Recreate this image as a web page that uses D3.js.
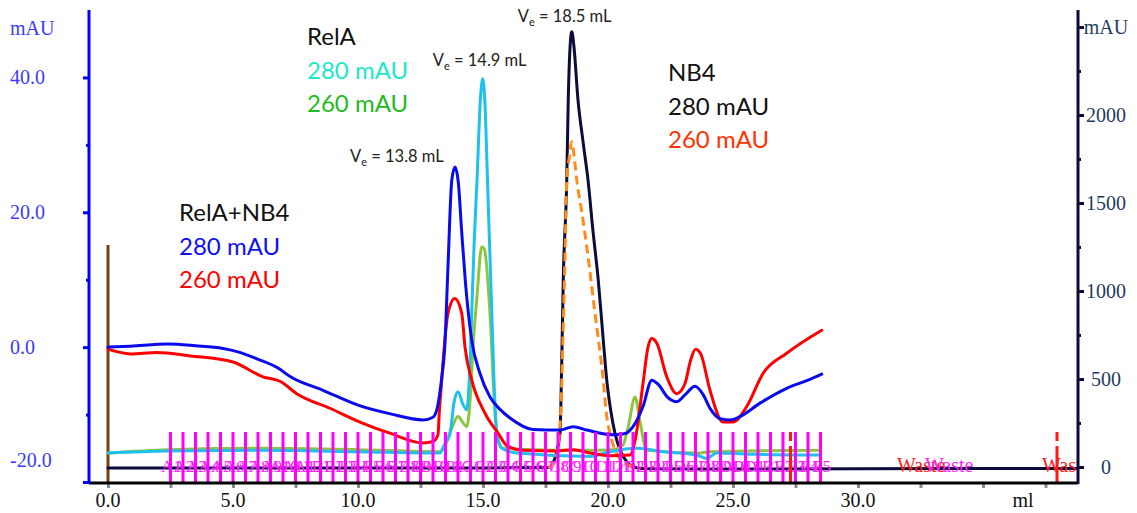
<!DOCTYPE html>
<html>
<head>
<meta charset="utf-8">
<script src="https://cdn.jsdelivr.net/npm/d3@7/dist/d3.min.js"></script>
<style>
  html, body { margin: 0; padding: 0; background: #fff; }
  svg { display: block; }
</style>
</head>
<body>
<svg id="chart" width="1137" height="513"></svg>
<script>
// ---- Data: elution volume (ml) vs absorbance (mAU) ----
// RelA+NB4 complex, left axis
const complexA280 = [[0,0],[0.9,0.15],[2.4,0.45],[3.5,0.2],[4.6,-0.2],[5.2,-0.7],[6.0,-1.8],[6.8,-3.1],[7.3,-4.4],[8.6,-6.4],[10.0,-8.6],[11.3,-9.9],[12.6,-10.8],[13.0,-10.4],[13.2,-8.5],[13.35,-4.5],[13.47,0],[13.6,12],[13.75,24.7],[13.88,26.7],[14.01,24.5],[14.15,17],[14.3,9.5],[14.55,1.0],[14.88,-3.9],[15.28,-7.4],[15.7,-9.3],[16.08,-10.5],[17.0,-12.2],[18.08,-12.3],[18.6,-11.8],[19.15,-12.3],[20.2,-13.0],[20.7,-12.8],[21.0,-11.8],[21.4,-8.8],[21.75,-4.9],[22.0,-5.5],[22.4,-7.5],[22.75,-8.1],[23.1,-7.0],[23.48,-5.8],[23.8,-7.0],[24.1,-9.2],[24.48,-10.6],[24.9,-10.8],[25.28,-10.3],[26.08,-8.3],[27.15,-6.1],[28.0,-4.9],[28.55,-4.0]];
const complexA260 = [[0,-0.3],[0.9,-1.0],[1.95,-0.8],[3.3,-1.3],[5.0,-2.2],[6.2,-4.4],[6.9,-5.1],[7.55,-6.9],[8.9,-9.1],[10.2,-11.3],[11.3,-12.8],[12.6,-14.2],[13.0,-14.0],[13.2,-13.0],[13.25,-9.8],[13.35,-4.9],[13.45,0],[13.6,5],[13.87,7.2],[14.15,5.0],[14.28,0],[14.55,-4.9],[15.08,-9.8],[15.61,-12.8],[15.95,-14.6],[16.6,-15.3],[17.95,-15.4],[18.6,-15.2],[19.28,-15.7],[20.08,-16.1],[20.88,-16.0],[21.1,-13.5],[21.4,-5.4],[21.6,0],[21.75,1.3],[21.95,0.6],[22.35,-4.4],[22.75,-6.9],[23.08,-5.4],[23.3,-2.0],[23.5,-0.3],[23.7,-0.9],[24.08,-6.4],[24.6,-11.1],[25.0,-11.1],[25.55,-8.8],[26.2,-3.9],[27.15,-0.9],[28.55,2.5]];

// RelA alone, left axis
const relaA280 = [[0,-15.7],[2.35,-15.4],[5.95,-15.3],[9.95,-15.5],[13.28,-15.7],[13.45,-14.5],[13.68,-12.8],[13.85,-8.0],[14.0,-6.6],[14.2,-8.5],[14.35,-9.3],[14.45,-4.9],[14.55,5],[14.64,14.9],[14.76,24.7],[14.9,37],[14.99,39.8],[15.08,36],[15.18,24.7],[15.31,9.9],[15.44,-4.9],[15.55,-12.8],[15.75,-15.0],[16.35,-15.7],[19.28,-16.2],[20.08,-15.5],[21.15,-15.0],[22.2,-15.5],[23.55,-16.0],[23.95,-16.5],[24.35,-15.7],[25.95,-15.9],[28.5,-16.0]];
const relaA260 = [[0,-15.7],[2.4,-15.2],[6.0,-15.0],[10.0,-15.2],[13.28,-15.5],[13.5,-14.5],[13.75,-12.0],[14.0,-10.3],[14.2,-11.2],[14.35,-11.8],[14.5,-7.0],[14.6,0],[14.75,7.0],[14.95,14.9],[15.05,14.6],[15.28,5.0],[15.48,-9.8],[15.61,-13.8],[15.8,-15.0],[17.0,-15.2],[19.0,-15.3],[20.2,-15.2],[20.6,-14.5],[20.8,-12.0],[21.08,-7.4],[21.3,-11.5],[21.55,-15.3],[23.68,-15.7],[24.08,-15.5],[28.5,-15.3]];

// NB4 alone, right axis
const nb4A280 = [[0,-5],[5,-5],[10,-5],[15,-5],[17.6,-3],[17.85,40],[18.0,120],[18.08,191],[18.15,600],[18.21,1062],[18.35,1631],[18.41,2085],[18.48,2380],[18.55,2473],[18.63,2400],[18.8,2085],[19.0,1850],[19.2,1631],[19.4,1340],[19.61,1062],[19.8,740],[19.95,494],[20.1,330],[20.28,191],[20.5,90],[20.75,30],[21.0,0],[21.5,-10],[25,-12],[30,-10],[38.8,-8]];
const nb4A260 = [[17.6,-3],[17.9,40],[18.08,229],[18.19,684],[18.28,1200],[18.35,1631],[18.45,1760],[18.55,1848],[18.65,1760],[18.75,1631],[18.95,1450],[19.15,1252],[19.48,873],[19.81,494],[19.95,286],[20.08,191],[20.28,97],[20.5,40],[20.8,10],[21.2,0]];

// Fraction collection
const fractionVolumes = [2.5,3.0,3.5,4.0,4.5,5.0,5.5,6.0,6.5,7.0,7.5,8.0,8.5,9.0,9.5,10.0,10.5,11.0,11.5,12.0,12.5,13.0,13.5,14.0,14.5,15.0,15.5,16.0,16.5,17.0,17.5,18.0,18.5,19.0,19.5,20.0,20.5,21.0,21.5,22.0,22.5,23.0,23.5,24.0,24.5,25.0,25.5,26.0,26.5,27.0,27.5,28.0,28.5];
const fractionLabels = ["A1","A2","A3","A4","A5","A6","A7","A8","A9","A10","A11","A12","B1","B2","B3","B4","B5","B6","B7","B8","B9","B10","B11","B12","C1","C2","C3","C4","C5","C6","C7","C8","C9","C10","C11","C12","D1","D2","D3","D4","D5","D6","D7","D8","D9","D10","D11","D12","E1","E2","E3","E4","E5"];
const wasteLabelVolumes = [31.56, 37.36];
const wasteFractionVolume = 32.68;
const eventMarkVolumes = [27.3, 37.96];
const injectionVolume = 0;

// Axes ticks
const leftTicks = [-20, 0, 20, 40];
const leftMinorTicks = [-10, 10, 30];
const rightTicks = [0, 500, 1000, 1500, 2000, 2500];
const rightMinorTicks = [250, 750, 1250, 1750, 2250];
const xLabelTicks = [0, 5, 10, 15, 20, 25, 30];
const xMarkTicks = [0, 2.5, 5, 7.5, 10, 12.5, 15, 17.5, 20, 22.5, 25, 27.5, 30, 32.5, 35, 37.5];

// Peak annotations
const peakNotes = [
  {ve: "13.8", ml: 13.88, series: "L"},
  {ve: "14.9", ml: 14.99, series: "L"},
  {ve: "18.5", ml: 18.55, series: "R"}
];

// ---- Scales ----
const X0 = 89, X1 = 1078, Y0 = 483, YT = 10;
const x = d3.scaleLinear().domain([-0.76, 38.8]).range([X0, X1]);
const yL = d3.scaleLinear().domain([-20, 50]).range([482, 10]);
const yR = d3.scaleLinear().domain([0, 2500]).range([467, 27]);

const svg = d3.select("#chart");
svg.append("rect").attr("width", 1137).attr("height", 513).attr("fill", "#fff");

svg.append("defs").append("clipPath").attr("id", "plot")
  .append("rect").attr("x", X0).attr("y", YT).attr("width", X1 - X0).attr("height", Y0 - YT);

const plot = svg.append("g").attr("clip-path", "url(#plot)");

// Injection marker
plot.append("line")
  .attr("x1", x(injectionVolume)).attr("x2", x(injectionVolume))
  .attr("y1", 245).attr("y2", Y0)
  .attr("stroke", "#7a3d0c").attr("stroke-width", 3);

const lineL = d3.line().x(d => x(d[0])).y(d => yL(d[1])).curve(d3.curveMonotoneX);
const lineR = d3.line().x(d => x(d[0])).y(d => yR(d[1])).curve(d3.curveMonotoneX);

function trace(data, gen, color, dash) {
  const p = plot.append("path").datum(data)
    .attr("d", gen).attr("fill", "none")
    .attr("stroke", color).attr("stroke-width", 3)
    .attr("stroke-linejoin", "round").attr("stroke-linecap", "round");
  if (dash) p.attr("stroke-dasharray", dash).attr("stroke-linecap", "butt");
}

trace(nb4A280, lineR, "#0c0c3a");
trace(relaA260, lineL, "#8cc63f");
trace(relaA280, lineL, "#1ec0f0");
trace(nb4A260, lineR, "#ff8c1a", "9,5");
trace(complexA260, lineL, "#ff0000");
trace(complexA280, lineL, "#0a0aee");

// Fraction labels and marks
const serif = "'Liberation Serif', 'Times New Roman', serif";
const fr = svg.append("g").attr("clip-path", "url(#plot)");
fr.selectAll("text.frac").data(fractionVolumes).join("text")
  .attr("class", "frac")
  .attr("x", d => x(d) + 1).attr("y", 472)
  .attr("text-anchor", "middle")
  .attr("font-family", serif)
  .attr("font-size", 17).attr("fill", "#ff22ff")
  .text((d, i) => fractionLabels[i]);

fr.selectAll("text.waste").data(wasteLabelVolumes).join("text")
  .attr("class", "waste")
  .attr("x", d => x(d)).attr("y", 472)
  .attr("font-family", serif)
  .attr("font-size", 20).attr("fill", "#ff1a1a")
  .text("Waste");
fr.append("text")
  .attr("x", x(wasteFractionVolume)).attr("y", 472)
  .attr("font-family", serif)
  .attr("font-size", 20).attr("fill", "#ff22ff")
  .text("Waste");

fr.selectAll("line.frac").data(fractionVolumes).join("line")
  .attr("class", "frac")
  .attr("x1", d => x(d)).attr("x2", d => x(d))
  .attr("y1", 432).attr("y2", Y0)
  .attr("stroke", "#ff00ff").attr("stroke-width", 3);

fr.selectAll("line.event").data(eventMarkVolumes).join("line")
  .attr("class", "event")
  .attr("x1", d => x(d)).attr("x2", d => x(d))
  .attr("y1", 432).attr("y2", Y0)
  .attr("stroke", "#ff1a1a").attr("stroke-width", 3)
  .attr("stroke-dasharray", "9,5,40");

// ---- Axes ----
// Bottom axis
const xAxis = d3.axisBottom(x).tickValues(xMarkTicks).tickSize(5).tickFormat("");
const gx = svg.append("g").attr("transform", `translate(0,${Y0})`).call(xAxis);
gx.select(".domain").remove();
gx.selectAll(".tick line").attr("stroke", "#8a8a8a").attr("stroke-width", 3);
svg.append("line").attr("x1", X0).attr("x2", X1).attr("y1", Y0).attr("y2", Y0)
  .attr("stroke", "#000").attr("stroke-width", 3);
svg.append("g").selectAll("text").data(xLabelTicks).join("text")
  .attr("x", d => x(d)).attr("y", 507)
  .attr("text-anchor", "middle").attr("font-family", serif).attr("font-size", 20)
  .attr("fill", "#111").text(d => d.toFixed(1));
svg.append("text").attr("x", 1023).attr("y", 507).attr("text-anchor", "middle")
  .attr("font-family", serif).attr("font-size", 20).attr("fill", "#111").text("ml");

// Left axis
const gl = svg.append("g").attr("transform", `translate(${X0},0)`)
  .call(d3.axisLeft(yL).tickValues(leftTicks).tickSize(6).tickFormat(""));
gl.select(".domain").remove();
gl.selectAll(".tick line").attr("stroke", "#0000ff").attr("stroke-width", 3);
const glm = svg.append("g").attr("transform", `translate(${X0},0)`)
  .call(d3.axisLeft(yL).tickValues(leftMinorTicks).tickSize(3).tickFormat(""));
glm.select(".domain").remove();
glm.selectAll(".tick line").attr("stroke", "#0000ff").attr("stroke-width", 3);
svg.append("line").attr("x1", X0).attr("x2", X0).attr("y1", YT).attr("y2", Y0 + 1)
  .attr("stroke", "#0000ff").attr("stroke-width", 3);
svg.append("g").selectAll("text").data(leftTicks).join("text")
  .attr("x", 10).attr("y", d => Math.min(yL(d) + 7, 467))
  .attr("font-family", serif).attr("font-size", 20).attr("fill", "#3a3aff")
  .text(d => d.toFixed(1));
svg.append("text").attr("x", 10).attr("y", 35)
  .attr("font-family", serif).attr("font-size", 20).attr("fill", "#3a3aff").text("mAU");

// Right axis
const gr = svg.append("g").attr("transform", `translate(${X1},0)`)
  .call(d3.axisRight(yR).tickValues(rightTicks).tickSize(6).tickFormat(""));
gr.select(".domain").remove();
gr.selectAll(".tick line").attr("stroke", "#0c0c3a").attr("stroke-width", 3);
const grm = svg.append("g").attr("transform", `translate(${X1},0)`)
  .call(d3.axisRight(yR).tickValues(rightMinorTicks).tickSize(3).tickFormat(""));
grm.select(".domain").remove();
grm.selectAll(".tick line").attr("stroke", "#0c0c3a").attr("stroke-width", 3);
svg.append("line").attr("x1", X1).attr("x2", X1).attr("y1", YT).attr("y2", Y0 + 1)
  .attr("stroke", "#0c0c3a").attr("stroke-width", 3);
svg.append("g").selectAll("text").data(rightTicks).join("text")
  .attr("x", 1106).attr("y", d => yR(d) + 7)
  .attr("text-anchor", "middle").attr("font-family", serif).attr("font-size", 20)
  .attr("fill", "#1f3a60")
  .text(d => d === 2500 ? "mAU" : d);

// ---- Legends ----
const sans = "Lato, 'Open Sans', sans-serif";
function legend(xp, y0, rows) {
  const g = svg.append("g");
  rows.forEach((r, i) => {
    g.append("text").attr("x", xp).attr("y", y0 + i * 33.5)
      .attr("font-family", sans).attr("font-size", 24).attr("fill", r[1]).text(r[0]);
  });
}
legend(179, 221, [["RelA+NB4", "#111"], ["280 mAU", "#1010ee"], ["260 mAU", "#ff0000"]]);
legend(307, 45, [["RelA", "#111"], ["280 mAU", "#1de8c8"], ["260 mAU", "#1fbb1f"]]);
legend(668, 81, [["NB4", "#111"], ["280 mAU", "#111"], ["260 mAU", "#ff3300"]]);

// Peak elution volume notes
const noteOffsets = [[-105, -5], [-50, -13], [-54, -10]];
peakNotes.forEach((n, i) => {
  const src = n.series === "L" ? (i === 0 ? complexA280 : relaA280) : nb4A280;
  const peak = src.find(p => p[0] === n.ml);
  const py = n.series === "L" ? yL(peak[1]) : yR(peak[1]);
  const t = svg.append("text")
    .attr("x", x(n.ml) + noteOffsets[i][0]).attr("y", py + noteOffsets[i][1])
    .attr("font-family", sans).attr("font-size", 16.5).attr("fill", "#222");
  t.append("tspan").text("V");
  t.append("tspan").attr("font-size", 11).attr("dy", 4).text("e");
  t.append("tspan").attr("dy", -4).text(` = ${n.ve} mL`);
});
</script>
</body>
</html>
